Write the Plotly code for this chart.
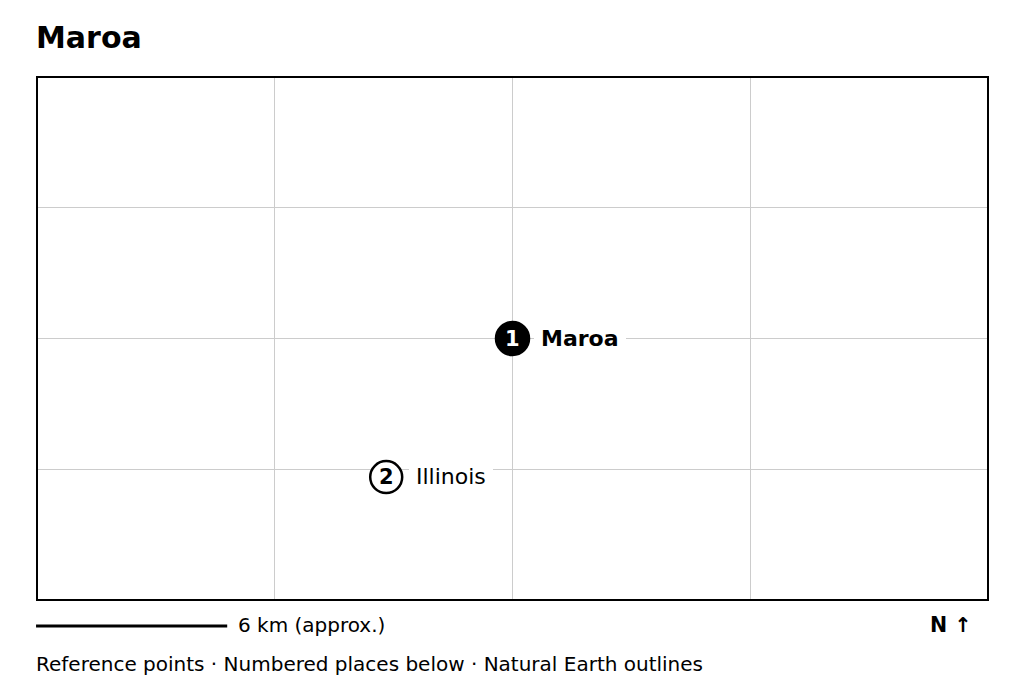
import plotly.graph_objects as go

FONT = "DejaVu Sans"
title = "Maroa"
place_names = ["Maroa", "Illinois"]
place_numbers = ["1", "2"]
place_lon = [-88.96, -89.0025]
place_lat = [39.96, 39.907]
lon_ticks = [-89.04, -88.96, -88.88]
lat_ticks = [39.91, 39.96, 40.01]
scale_label = "6 km (approx.)"
north_label = "N ↑"
footer = "Reference points · Numbered places below · Natural Earth outlines"

fig = go.Figure()
fig.add_trace(go.Scatter(
    x=place_lon, y=place_lat, mode="markers",
    marker=dict(size=[33, 32], color=["black", "white"], opacity=1,
                line=dict(color="black", width=2.5)),
    hoverinfo="skip", showlegend=False, cliponaxis=False,
))

label_shift = [21, 23]
label_yshift = [0, 1]
number_colors = ["white", "black"]
for i, name in enumerate(place_names):
    fig.add_annotation(
        x=place_lon[i], y=place_lat[i], text=name, showarrow=False,
        xanchor="left", yanchor="middle", xshift=label_shift[i], yshift=label_yshift[i],
        bgcolor="white", borderpad=7, borderwidth=0,
        font=dict(family=FONT, size=22,
                  color="black", weight="bold" if i == 0 else "normal"),
    )
    fig.add_annotation(
        x=place_lon[i], y=place_lat[i], text=f"<b>{place_numbers[i]}</b>", showarrow=False,
        xanchor="center", yanchor="middle", yshift=0,
        font=dict(family=FONT, size=21, color=number_colors[i]), borderpad=0,
    )

fig.add_annotation(xref="paper", yref="paper", x=-0.001, xshift=-1, y=1.0, yshift=40,
                   text=f"<b>{title}</b>", showarrow=False, xanchor="left", yanchor="middle",
                   font=dict(family=FONT, size=30, color="black"), borderpad=0)
fig.add_annotation(xref="paper", yref="paper", x=0.2105, y=0, yshift=-25,
                   text=scale_label, showarrow=False, xanchor="left", yanchor="middle",
                   font=dict(family=FONT, size=20, color="black"), borderpad=0)
fig.add_annotation(xref="paper", yref="paper", x=0.983, y=0, yshift=-25,
                   text=f"<b>{north_label}</b>", showarrow=False, xanchor="right", yanchor="middle",
                   font=dict(family=FONT, size=20.5, color="black"), borderpad=0)
fig.add_annotation(xref="paper", yref="paper", x=-0.001, xshift=-1, y=0, yshift=-63.5,
                   text=footer, showarrow=False, xanchor="left", yanchor="middle",
                   font=dict(family=FONT, size=20, color="black"), borderpad=0)

fig.add_shape(type="line", xref="paper", yref="paper", x0=-0.001, x1=0.2, y0=-0.0497, y1=-0.0497,
              line=dict(color="black", width=3))
fig.add_shape(type="rect", xref="paper", yref="paper", x0=0, x1=1, y0=0, y1=1,
              line=dict(color="black", width=2), layer="above")

axis = dict(showgrid=True, gridcolor="#cccccc", gridwidth=1, zeroline=False,
            showticklabels=False, ticks="", showline=False, fixedrange=True)
fig.update_xaxes(range=[-89.12, -88.80], tickvals=lon_ticks, **axis)
fig.update_yaxes(range=[39.86, 40.06], tickvals=lat_ticks, **axis)
fig.update_layout(width=1024, height=692, autosize=False,
                  margin=dict(l=37, r=36, t=77, b=92),
                  paper_bgcolor="white", plot_bgcolor="white", showlegend=False)

fig.write_html("out.html", post_script="document.body.style.margin='0';",
               config={"displayModeBar": False})
